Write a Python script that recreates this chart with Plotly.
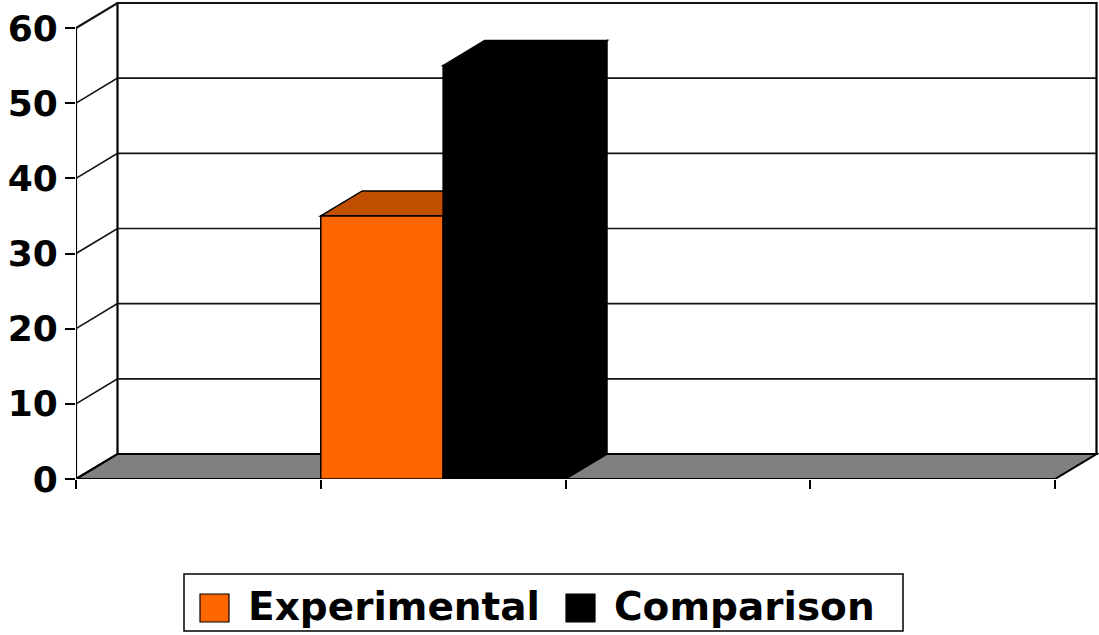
import plotly.graph_objects as go

# ---- data ----
categories = ["", "Group", "", ""]          # four category slots on the x axis
series_names = ["Experimental", "Comparison"]
series_values = [35, 55]
series_colors = ["#FF6600", "#000000"]
top_colors = ["#C05000", "#000000"]
y_ticks = [0, 10, 20, 30, 40, 50, 60]

# ---- geometry ----
W, H = 1099, 635
ML, MB = 76, 156
x_px_per_unit = (1055 - 76) / 4.0
y_px_per_unit = (479 - 28) / 60.0
x_max = (W - ML) / x_px_per_unit
y_max = (H - MB) / y_px_per_unit
dx = 41.5 / x_px_per_unit
dy = 25.0 / y_px_per_unit
n_cat = len(categories)
cat_index = 1
bar_w = 0.5

fig = go.Figure()
shapes = []

# floor
shapes.append(dict(type="path", xref="x", yref="y", layer="below",
                   path=f"M0,0 L{dx},{dy} L{n_cat+dx},{dy} L{n_cat},0 Z",
                   fillcolor="#808080", line=dict(color="black", width=2)))
# back wall
shapes.append(dict(type="rect", xref="x", yref="y", layer="below",
                   x0=dx, y0=dy, x1=n_cat + dx, y1=y_ticks[-1] + dy,
                   fillcolor="white", line=dict(color="black", width=2.2)))
# gridlines on back and side walls
for v in y_ticks[1:]:
    w = 2.2 if v == y_ticks[-1] else 1.6
    shapes.append(dict(type="path", xref="x", yref="y", layer="below",
                       path=f"M0,{v} L{dx},{v+dy} L{n_cat+dx},{v+dy}",
                       line=dict(color="#111111", width=w)))
# front left axis line
shapes.append(dict(type="line", xref="x", yref="y", layer="below",
                   x0=0, y0=0, x1=0, y1=y_ticks[-1], line=dict(color="black", width=2.2)))
# floor back-left edge
shapes.append(dict(type="line", xref="x", yref="y", layer="below",
                   x0=0, y0=0, x1=dx, y1=dy, line=dict(color="black", width=2)))

# bars: top and side faces as shapes, front faces as bar traces
for i, (name, val) in enumerate(zip(series_names, series_values)):
    x0 = cat_index + i * bar_w
    x1 = x0 + bar_w
    shapes.append(dict(type="path", xref="x", yref="y", layer="below",
                       path=f"M{x0},{val} L{x0+dx},{val+dy} L{x1+dx},{val+dy} L{x1},{val} Z",
                       fillcolor=top_colors[i], line=dict(color="black", width=1.5)))
    shapes.append(dict(type="path", xref="x", yref="y", layer="below",
                       path=f"M{x1},0 L{x1+dx},{dy} L{x1+dx},{val+dy} L{x1},{val} Z",
                       fillcolor=top_colors[i], line=dict(color="black", width=1.5)))
    fig.add_trace(go.Bar(x=[x0 + bar_w / 2], y=[val], width=bar_w, name=name,
                         marker=dict(color=series_colors[i], line=dict(color="black", width=1.5)),
                         showlegend=False, hoverinfo="skip"))

# ---- manual legend ----
def px_x(p):
    return (p - ML) / (W - ML)

def px_y(p):
    return (H - MB - p) / (H - MB)

shapes.append(dict(type="rect", xref="paper", yref="paper",
                   x0=px_x(184), x1=px_x(903), y0=px_y(574), y1=px_y(631),
                   line=dict(color="black", width=1.5), fillcolor="white"))
legend_sq_x = [200, 566]
legend_tx_x = [246, 612]
annotations = []
for i, name in enumerate(series_names):
    shapes.append(dict(type="rect", xref="paper", yref="paper",
                       x0=px_x(legend_sq_x[i]), x1=px_x(legend_sq_x[i] + 29),
                       y0=px_y(594), y1=px_y(622),
                       fillcolor=series_colors[i], line=dict(color="black", width=1.2)))
    annotations.append(dict(xref="paper", yref="paper", x=px_x(legend_tx_x[i]), y=px_y(606),
                            xanchor="left", yanchor="middle", showarrow=False, text=name,
                            font=dict(family="DejaVu Sans", size=39, color="black", weight="bold")))

fig.update_layout(
    width=W, height=H,
    margin=dict(l=ML, r=0, t=0, b=MB),
    plot_bgcolor="white", paper_bgcolor="white",
    barmode="overlay",
    shapes=shapes, annotations=annotations,
    showlegend=False,
    xaxis=dict(range=[0, x_max], tickvals=list(range(n_cat + 1)), ticks="outside",
               ticklen=9, tickwidth=2, tickcolor="black", showticklabels=False,
               showgrid=False, zeroline=False, showline=False, fixedrange=True),
    yaxis=dict(range=[0, y_max], tickvals=y_ticks, ticks="outside",
               ticklen=10, tickwidth=2, tickcolor="black", ticklabelstandoff=0,
               tickfont=dict(family="DejaVu Sans", size=36, color="black", weight="bold"),
               showgrid=False, zeroline=False, showline=False, fixedrange=True),
)

fig.write_html("out.html")
